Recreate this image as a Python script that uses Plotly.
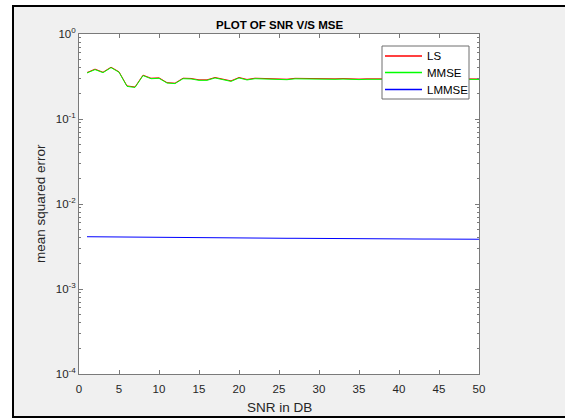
import plotly.graph_objects as go

snr = list(range(1, 51))

mse_ls = [0.352, 0.386, 0.355, 0.407, 0.359, 0.245, 0.238, 0.328, 0.302, 0.305,
          0.268, 0.264, 0.302, 0.300, 0.289, 0.289, 0.308, 0.294, 0.281, 0.308,
          0.292, 0.302, 0.301, 0.302, 0.301, 0.294, 0.301, 0.299, 0.297, 0.298,
          0.296, 0.297, 0.299, 0.296, 0.295, 0.297, 0.298, 0.296, 0.295, 0.297,
          0.296, 0.295, 0.297, 0.296, 0.295, 0.296, 0.297, 0.296, 0.295, 0.296]

mse_mmse = [0.348, 0.381, 0.351, 0.402, 0.355, 0.242, 0.235, 0.324, 0.298, 0.301,
            0.265, 0.261, 0.298, 0.296, 0.285, 0.285, 0.304, 0.290, 0.277, 0.304,
            0.288, 0.298, 0.297, 0.298, 0.297, 0.290, 0.297, 0.295, 0.293, 0.294,
            0.292, 0.293, 0.295, 0.292, 0.291, 0.293, 0.294, 0.292, 0.291, 0.293,
            0.292, 0.291, 0.293, 0.292, 0.291, 0.292, 0.293, 0.292, 0.291, 0.292]

mse_lmmse = [0.00412, 0.00411, 0.00411, 0.00410, 0.00409, 0.00409, 0.00408, 0.00407, 0.00407, 0.00406,
             0.00405, 0.00405, 0.00404, 0.00403, 0.00403, 0.00402, 0.00401, 0.00401, 0.00400, 0.00399,
             0.00399, 0.00398, 0.00397, 0.00397, 0.00396, 0.00395, 0.00395, 0.00394, 0.00394, 0.00393,
             0.00393, 0.00392, 0.00392, 0.00391, 0.00391, 0.00390, 0.00390, 0.00389, 0.00389, 0.00388,
             0.00388, 0.00388, 0.00387, 0.00387, 0.00387, 0.00386, 0.00386, 0.00386, 0.00385, 0.00385]

series_names = ["LS", "MMSE", "LMMSE"]
series_colors = ["#ff0000", "#00ff00", "#0000ff"]

x_ticks = [0, 5, 10, 15, 20, 25, 30, 35, 40, 45, 50]
y_ticks = [1e-4, 1e-3, 1e-2, 1e-1, 1e0]
y_ticktext = ["10<sup>-4</sup>", "10<sup>-3</sup>", "10<sup>-2</sup>", "10<sup>-1</sup>", "10<sup>0</sup>"]

W, H = 565, 419
ML, MR, MT, MB = 79, 86, 34, 45
PW, PH = W - ML - MR, H - MT - MB


def px_x(px):
    return (px - ML) / PW


def px_y(py):
    return (H - MB - py) / PH


FONT = "Liberation Sans, Arial, Helvetica, sans-serif"
AXC = "#7a7a7a"
TXT = "#262626"

fig = go.Figure()
for name, ys, col in zip(series_names, [mse_ls, mse_mmse, mse_lmmse], series_colors):
    fig.add_trace(go.Scatter(x=snr, y=ys, mode="lines", name=name,
                             line=dict(color=col, width=1), showlegend=False))

minor_vals = [m * 10 ** e for e in range(-4, 0) for m in range(2, 10)]

# manual legend (MATLAB style box)
leg_left, leg_right, leg_top, leg_bottom = 382, 469, 46, 99
leg_rows = [56, 72.5, 89.5]
shapes = [
    dict(type="rect", xref="paper", yref="paper", layer="below",
         x0=px_x(13), x1=px_x(W + 10), y0=px_y(417), y1=px_y(6),
         fillcolor="#f0f0f0", line=dict(color="black", width=2)),
    dict(type="rect", xref="paper", yref="paper", layer="below",
         x0=0, x1=1, y0=0, y1=1, fillcolor="white", line=dict(width=0)),
    dict(type="rect", xref="paper", yref="paper", layer="above",
         x0=px_x(leg_left), x1=px_x(leg_right), y0=px_y(leg_bottom), y1=px_y(leg_top),
         fillcolor="white", line=dict(color="#6e6e6e", width=1)),
]
annotations = [
    dict(text="<b>PLOT OF SNR V/S MSE</b>", xref="paper", yref="paper",
         x=0.5, y=px_y(25), xanchor="center", yanchor="middle", showarrow=False,
         font=dict(family=FONT, size=11.5, color="black")),
    dict(text="SNR in DB", xref="paper", yref="paper",
         x=0.5, y=px_y(407), xanchor="center", yanchor="middle", showarrow=False,
         font=dict(family=FONT, size=13.5, color=TXT)),
    dict(text="mean squared error", xref="paper", yref="paper",
         x=px_x(40), y=0.5, xanchor="center", yanchor="middle", showarrow=False,
         textangle=-90, font=dict(family=FONT, size=13.5, color=TXT)),
]
for name, col, ry in zip(series_names, series_colors, leg_rows):
    shapes.append(dict(type="line", xref="paper", yref="paper", layer="above",
                       x0=px_x(385), x1=px_x(422), y0=px_y(ry), y1=px_y(ry),
                       line=dict(color=col, width=1.5)))
    annotations.append(dict(text=name, xref="paper", yref="paper",
                            x=px_x(425), y=px_y(ry), xanchor="left", yanchor="middle",
                            showarrow=False, font=dict(family=FONT, size=11.5, color="black")))

fig.update_layout(
    width=W, height=H,
    margin=dict(l=ML, r=MR, t=MT, b=MB, pad=0),
    paper_bgcolor="white",
    plot_bgcolor="white",
    font=dict(family=FONT, size=11.5, color=TXT),
    showlegend=False,
    xaxis=dict(
        range=[0, 50], tickvals=x_ticks, ticktext=[str(v) for v in x_ticks],
        showgrid=False, zeroline=False,
        showline=True, linecolor=AXC, linewidth=1, mirror="allticks",
        ticks="inside", ticklen=4, tickcolor=AXC, ticklabelstandoff=4,
        tickfont=dict(family=FONT, size=11.5, color=TXT),
    ),
    yaxis=dict(
        type="log", range=[-4, 0], tickvals=y_ticks, ticktext=y_ticktext,
        showgrid=False, zeroline=False,
        showline=True, linecolor=AXC, linewidth=1, mirror="allticks",
        ticks="inside", ticklen=4, tickcolor=AXC,
        tickfont=dict(family=FONT, size=11.5, color=TXT),
        minor=dict(tickvals=minor_vals, ticks="inside", ticklen=2, tickcolor=AXC, showgrid=False),
    ),
    shapes=shapes,
    annotations=annotations,
)

fig.write_html("out.html", config={"displayModeBar": False},
               post_script="document.body.style.margin='0';document.body.style.overflow='hidden';")
